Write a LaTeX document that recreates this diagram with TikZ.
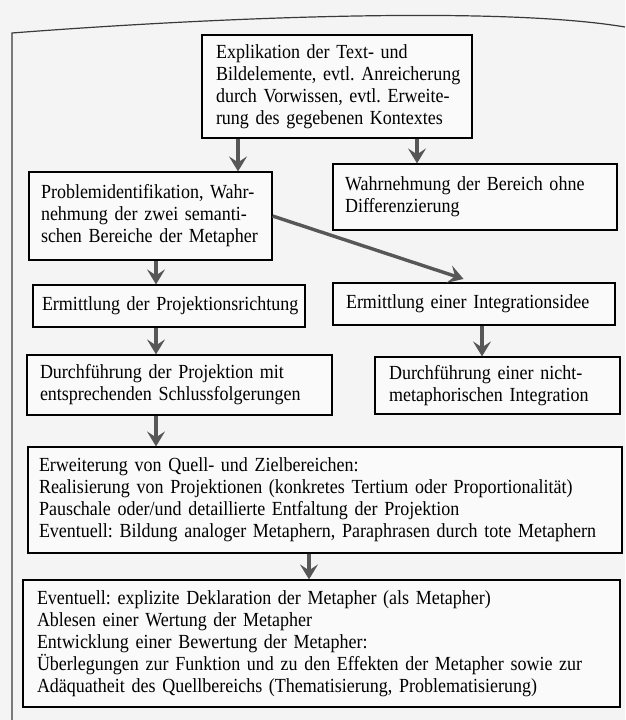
\documentclass[tikz,border=0pt]{standalone}
\usepackage{fontspec}
\setmainfont{Liberation Serif}[FakeStretch=0.9]
\usetikzlibrary{arrows.meta}
\definecolor{arrowgray}{HTML}{575757}
\definecolor{pagebg}{HTML}{F4F4F4}
\definecolor{boxbg}{HTML}{FAFAFA}
\definecolor{framegray}{HTML}{3A3A3A}
\begin{document}
\frenchspacing\lineskiplimit=-20pt\relax
\begin{tikzpicture}[x=1pt,y=-1pt,
  box/.style={draw=black, line width=1.2pt, fill=boxbg, inner sep=0pt, align=left,
    font=\fontsize{20}{22}\selectfont},
  arr/.style={draw=arrowgray, line width=3.4pt,
    -{Stealth[length=15pt,width=18pt,inset=6pt]}}]
\fill[pagebg] (0,0) rectangle (625,720);
\useasboundingbox (0,0) rectangle (625,720);
% page frame
\draw[framegray, line width=1.2pt] (12,720) -- (12,33) .. controls (220,17) and (500,6) .. (625,27);
% boxes
\node[box, minimum width=270pt, minimum height=103pt, text width=242pt] (A) at (337,86.5)
  {\mbox{Explikation der Text- und}\\\mbox{Bildelemente, evtl. Anreicherung}\\\mbox{durch Vorwissen, evtl. Erweite-}\\\mbox{rung des gegebenen Kontextes}};
\node[box, minimum width=243pt, minimum height=88pt, text width=219pt] (P) at (150.5,216)
  {\mbox{Problemidentifikation, Wahr-}\\\mbox{nehmung der zwei semanti-}\\\mbox{schen Bereiche der Metapher}};
\node[box, minimum width=284pt, minimum height=66pt, text width=260pt] (W) at (475,197)
  {\mbox{Wahrnehmung der Bereich ohne}\\\mbox{Differenzierung}};
\node[box, minimum width=272pt, minimum height=42pt, text width=254pt] (E1) at (169,306)
  {\mbox{Ermittlung der Projektionsrichtung}};
\node[box, minimum width=282pt, minimum height=42pt, text width=256pt] (E2) at (474,304)
  {\mbox{Ermittlung einer Integrationsidee}};
\node[box, minimum width=305pt, minimum height=60pt, text width=279pt] (D1) at (179.5,385)
  {\mbox{Durchführung der Projektion mit}\\\mbox{entsprechenden Schlussfolgerungen}};
\node[box, minimum width=245pt, minimum height=57pt, text width=217pt] (D2) at (497.5,385.5)
  {\mbox{Durchführung einer nicht-}\\\mbox{metaphorischen Integration}};
\node[box, minimum width=594pt, minimum height=106pt, text width=572pt] (X) at (325,500)
  {\mbox{Erweiterung von Quell- und Zielbereichen:}\\
   \mbox{Realisierung von Projektionen (konkretes Tertium oder Proportionalität)}\\
   \mbox{Pauschale oder/und detaillierte Entfaltung der Projektion}\\
   \mbox{Eventuell: Bildung analoger Metaphern, Paraphrasen durch tote Metaphern}};
\node[box, minimum width=597pt, minimum height=127pt, text width=569pt] (Y) at (321.5,643.5)
  {\mbox{Eventuell: explizite Deklaration der Metapher (als Metapher)}\\
   \mbox{Ablesen einer Wertung der Metapher}\\
   \mbox{Entwicklung einer Bewertung der Metapher:}\\
   \mbox{Überlegungen zur Funktion und zu den Effekten der Metapher sowie zur}\\
   \mbox{Adäquatheit des Quellbereichs (Thematisierung, Problematisierung)}};
% arrow columns
\coordinate (c1) at (238,0);
\coordinate (c2) at (417,0);
\coordinate (c3) at (156,0);
\coordinate (c4) at (482,0);
\coordinate (c5) at (309,0);
% connectors
\draw[arr] (A.south -| c1) -- (P.north -| c1);
\draw[arr] (A.south -| c2) -- (W.north -| c2);
\draw[arr, shorten >=11pt] (P.east) -- (E2.north);
\draw[arr] (P.south -| c3) -- (E1.north -| c3);
\draw[arr] (E1.south -| c3) -- (D1.north -| c3);
\draw[arr] (D1.south -| c3) -- (X.north -| c3);
\draw[arr] (E2.south -| c4) -- (D2.north -| c4);
\draw[arr] (X.south -| c5) -- (Y.north -| c5);
\end{tikzpicture}
\end{document}
